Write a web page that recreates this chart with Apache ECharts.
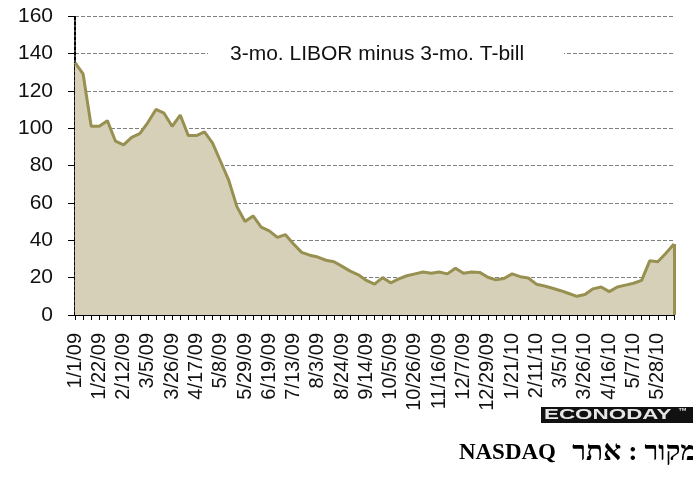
<!DOCTYPE html>
<html>
<head>
<meta charset="utf-8">
<script src="https://cdn.jsdelivr.net/npm/echarts@6/dist/echarts.min.js"></script>
<style>
  html, body { margin: 0; padding: 0; background: #fff; }
  #chart { width: 693px; height: 478px; }
</style>
</head>
<body>
<div id="chart"></div>
<script>
// weekly dates, a label on every third one
const dates = [
  '1/1/09', '1/8/09', '1/15/09', '1/22/09', '1/29/09', '2/5/09', '2/12/09', '2/19/09', '2/26/09',
  '3/5/09', '3/12/09', '3/19/09', '3/26/09', '4/2/09', '4/9/09', '4/17/09', '4/24/09', '5/1/09',
  '5/8/09', '5/15/09', '5/22/09', '5/29/09', '6/5/09', '6/12/09', '6/19/09', '6/26/09', '7/6/09',
  '7/13/09', '7/20/09', '7/27/09', '8/3/09', '8/10/09', '8/17/09', '8/24/09', '8/31/09', '9/8/09',
  '9/14/09', '9/21/09', '9/28/09', '10/5/09', '10/13/09', '10/19/09', '10/26/09', '11/2/09', '11/9/09',
  '11/16/09', '11/23/09', '11/30/09', '12/7/09', '12/14/09', '12/21/09', '12/29/09', '1/5/10', '1/12/10',
  '1/21/10', '1/28/10', '2/4/10', '2/11/10', '2/19/10', '2/26/10', '3/5/10', '3/12/10', '3/19/10',
  '3/26/10', '4/2/10', '4/9/10', '4/16/10', '4/23/10', '4/30/10', '5/7/10', '5/14/10', '5/21/10',
  '5/28/10', '6/4/10', '6/11/10'
]

// 3-mo LIBOR minus 3-mo T-bill, basis points
const spread = [
  135, 129, 101, 101, 104, 93, 91, 95, 97, 103,
  110, 108, 101, 107, 96, 96, 98, 92, 82, 72,
  58, 50, 53, 47, 45, 41.5, 43, 38, 33.5, 32,
  31, 29.3, 28.5, 26, 23.5, 21.5, 18.5, 16.5, 20, 17.2,
  19.3, 21, 22, 23, 22.3, 23, 22, 25, 22.3, 23,
  22.8, 20.2, 18.8, 19.5, 22, 20.5, 19.8, 16.5, 15.5, 14.3,
  13, 11.5, 10, 11, 14, 15, 12.5, 15, 16, 17,
  18.5, 29, 28.5, 33, 38
]

const yTicks = { min: 0, max: 160, step: 20 }

const titleText = '3-mo. LIBOR minus 3-mo. T-bill'
// source line: hebrew part and latin part drawn side by side
const sourceHe = 'מקור : אתר'
const sourceEn = 'NASDAQ'

const lineColor = '#989050'
const fillColor = '#d7d0b9'
const labelFont = '"Liberation Sans", Arial, sans-serif'
const serifFont = '"Liberation Serif", "Times New Roman", serif'

const myChart = echarts.init(document.getElementById('chart'), null, { renderer: 'canvas' })

const lastIdx = dates.length - 1

const option = {
  animation: false,
  backgroundColor: '#fff',
  title: {
    text: titleText,
    left: 208,
    top: 42,
    padding: [2, 40, 2, 22],
    backgroundColor: '#fff',
    textStyle: {
      fontFamily: labelFont,
      fontWeight: 'normal',
      fontSize: 21,
      color: '#111'
    }
  },
  grid: {
    left: 75,
    right: 19,
    top: 16,
    bottom: 163,
    containLabel: false,
    outerBoundsMode: 'none'
  },
  xAxis: {
    type: 'category',
    boundaryGap: false,
    data: dates,
    axisLine: {
      show: true,
      lineStyle: { color: '#000', width: 2 }
    },
    axisTick: {
      show: true,
      interval: 0,
      length: 5,
      lineStyle: { color: '#000', width: 1 }
    },
    axisLabel: {
      interval: 2,
      rotate: 90,
      margin: 18,
      hideOverlap: false,
      fontFamily: labelFont,
      fontSize: 20,
      color: '#111'
    },
    splitLine: { show: false }
  },
  yAxis: {
    type: 'value',
    min: yTicks.min,
    max: yTicks.max,
    interval: yTicks.step,
    axisLine: {
      show: true,
      lineStyle: { color: '#000', width: 2, type: [3, 2] }
    },
    axisTick: {
      show: true,
      length: 7,
      lineStyle: { color: '#000', width: 1 }
    },
    axisLabel: {
      margin: 22,
      fontFamily: labelFont,
      fontSize: 21,
      color: '#111'
    },
    splitLine: {
      show: true,
      lineStyle: { color: '#808080', width: 1, type: [4, 2] }
    }
  },
  series: [
    {
      name: titleText,
      type: 'line',
      data: spread,
      symbol: 'none',
      smooth: false,
      lineStyle: { color: lineColor, width: 3 },
      areaStyle: { color: fillColor, opacity: 1 },
      z: 3,
      markLine: {
        silent: true,
        symbol: 'none',
        label: { show: false },
        lineStyle: { color: lineColor, width: 3, type: 'solid' },
        data: [
          [
            { coord: [lastIdx, 0] },
            { coord: [lastIdx, spread[lastIdx]] }
          ]
        ]
      }
    }
  ],
  graphic: [
    {
      type: 'rect',
      left: 541,
      top: 407,
      shape: { width: 152, height: 16 },
      style: { fill: '#111' }
    },
    {
      type: 'text',
      x: 544,
      y: 415,
      scaleX: 1.6,
      style: {
        text: 'ECONODAY',
        font: 'bold 14px ' + labelFont,
        fill: '#e6e6e6',
        textAlign: 'left',
        textVerticalAlign: 'middle'
      }
    },
    {
      type: 'text',
      x: 678,
      y: 412,
      style: {
        text: '™',
        font: 'bold 9px ' + labelFont,
        fill: '#e6e6e6',
        textAlign: 'left',
        textVerticalAlign: 'middle'
      }
    },
    {
      type: 'text',
      x: 697,
      y: 453,
      style: {
        text: sourceHe,
        font: 'bold 28px ' + serifFont,
        fill: '#000',
        textAlign: 'right',
        textVerticalAlign: 'middle'
      }
    },
    {
      type: 'text',
      x: 556,
      y: 453,
      style: {
        text: sourceEn,
        font: 'bold 23px ' + serifFont,
        fill: '#000',
        textAlign: 'right',
        textVerticalAlign: 'middle'
      }
    }
  ]
}

myChart.setOption(option)
</script>
</body>
</html>
